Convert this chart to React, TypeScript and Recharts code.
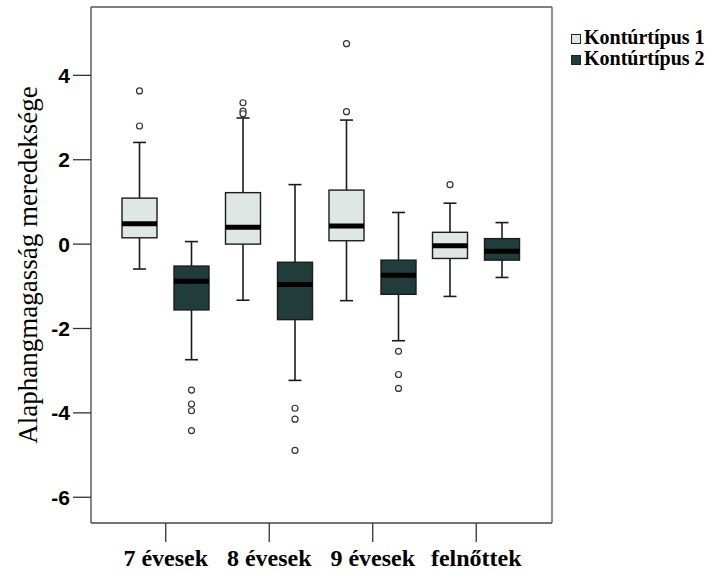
import React from 'react';
import { ComposedChart, Bar, XAxis, YAxis, Legend } from 'recharts';

// categories and five-number summaries
const categories = ['7 évesek', '8 évesek', '9 évesek', 'felnőttek'];

const t1Min = [-0.59, -1.33, -1.34, -1.24];
const t1Q1 = [0.15, 0.0, 0.08, -0.34];
const t1Med = [0.48, 0.4, 0.43, -0.04];
const t1Q3 = [1.09, 1.22, 1.28, 0.28];
const t1Max = [2.41, 2.99, 2.94, 0.97];
const t1Out = [[3.63, 2.8], [3.35, 3.15, 3.09], [4.75, 3.14], [1.41]];

const t2Min = [-2.74, -3.23, -2.29, -0.79];
const t2Q1 = [-1.56, -1.79, -1.19, -0.38];
const t2Med = [-0.88, -0.96, -0.74, -0.17];
const t2Q3 = [-0.52, -0.43, -0.38, 0.13];
const t2Max = [0.06, 1.41, 0.75, 0.51];
const t2Out = [[-3.46, -3.79, -3.95, -4.42], [-3.89, -4.15, -4.89], [-2.54, -3.09, -3.42], []];

const yTicks = [4, 2, 0, -2, -4, -6];
const legendLabels = ['Kontúrtípus 1', 'Kontúrtípus 2'];
const fills = ['#dfe7e4', '#223b3b'];

const data = categories.map((name, i) => ({
  name,
  r1: [t1Min[i], t1Max[i]],
  r2: [t2Min[i], t2Max[i]],
  s1: { min: t1Min[i], q1: t1Q1[i], med: t1Med[i], q3: t1Q3[i], max: t1Max[i], out: t1Out[i] },
  s2: { min: t2Min[i], q1: t2Q1[i], med: t2Med[i], q3: t2Q3[i], max: t2Max[i], out: t2Out[i] },
}));

const serif = '"Liberation Serif", "Times New Roman", serif';
const sans = '"Liberation Sans", Arial, sans-serif';

const BoxShape = (props: any) => {
  const { x, y, width, height, payload, sk, fill } = props;
  const s = payload[sk];
  const top = Math.min(y, y + height);
  const bot = Math.max(y, y + height);
  // bar spans whisker-to-whisker, so map other values on the same linear scale
  const py = (v: number) => top + ((s.max - v) / (s.max - s.min)) * (bot - top);
  const cx = x + width / 2;
  const cap = 13;
  const ink = '#1c1c1c';
  return (
    <g>
      <line x1={cx} x2={cx} y1={py(s.max)} y2={py(s.q3)} stroke={ink} strokeWidth={1.6} />
      <line x1={cx} x2={cx} y1={py(s.q1)} y2={py(s.min)} stroke={ink} strokeWidth={1.6} />
      <line x1={cx - cap / 2} x2={cx + cap / 2} y1={py(s.max)} y2={py(s.max)} stroke={ink} strokeWidth={1.6} />
      <line x1={cx - cap / 2} x2={cx + cap / 2} y1={py(s.min)} y2={py(s.min)} stroke={ink} strokeWidth={1.6} />
      <rect x={x} y={py(s.q3)} width={width} height={py(s.q1) - py(s.q3)} fill={fill} stroke={ink} strokeWidth={1.4} />
      <line x1={x} x2={x + width} y1={py(s.med)} y2={py(s.med)} stroke="#000" strokeWidth={5} />
      {s.out.map((v: number, j: number) => (
        <circle key={j} cx={cx} cy={py(v)} r={3} fill="#fff" stroke="#333" strokeWidth={1.2} />
      ))}
    </g>
  );
};

const XTick = (props: any) => {
  const { x, y, payload } = props;
  return (
    <text x={x} y={y} dy={24} textAnchor="middle" fontFamily={serif} fontWeight="bold" fontSize={24} fill="#000">
      {payload.value}
    </text>
  );
};

const YTick = (props: any) => {
  const { x, y, payload } = props;
  return (
    <text x={x} y={y} dy={7.5} textAnchor="end" fontFamily={sans} fontWeight="bold" fontSize={21} fill="#000">
      {payload.value}
    </text>
  );
};

const LegendBox = () => (
  <div style={{ fontFamily: serif, fontWeight: 'bold', fontSize: 20, lineHeight: '21px', color: '#000', whiteSpace: 'nowrap' }}>
    {legendLabels.map((l, i) => (
      <div key={l}>
        <span
          style={{
            width: 10,
            height: 10,
            boxSizing: 'border-box',
            background: fills[i],
            border: '1px solid #222',
            marginRight: 3,
            display: 'inline-block',
            verticalAlign: 'baseline',
          }}
        />
        <span>{l}</span>
      </div>
    ))}
  </div>
);

export default function App() {
  return (
    <div style={{ position: 'absolute', left: 0, top: 0, background: '#fff' }}>
      <ComposedChart
        width={708}
        height={572}
        data={data}
        margin={{ top: 6, right: 155, left: 0, bottom: 0 }}
        barSize={35}
        barGap={17}
        style={{ fontFamily: serif }}
      >
        <XAxis
          dataKey="name"
          height={49}
          padding={{ left: 23, right: 24 }}
          axisLine={{ stroke: '#444', strokeWidth: 1.3 }}
          tickLine={{ stroke: '#333', strokeWidth: 1.3 }}
          tickSize={19}
          tickMargin={0}
          tick={<XTick />}
        />
        <XAxis
          xAxisId="top"
          orientation="top"
          dataKey="name"
          height={1}
          tick={false}
          tickLine={false}
          axisLine={{ stroke: '#555', strokeWidth: 1.3 }}
        />
        <YAxis
          type="number"
          domain={[-6.61, 5.62]}
          ticks={yTicks}
          width={91}
          axisLine={{ stroke: '#444', strokeWidth: 1.3 }}
          tickLine={{ stroke: '#333', strokeWidth: 1.3 }}
          tickSize={18}
          tickMargin={3}
          tick={<YTick />}
          label={{
            value: 'Alaphangmagasság meredeksége',
            angle: -90,
            position: 'insideLeft',
            offset: 27,
            style: { textAnchor: 'middle', fontSize: 27, fill: '#000', fontFamily: serif },
          }}
        />
        <YAxis
          yAxisId="right"
          orientation="right"
          width={1}
          tick={false}
          tickLine={false}
          axisLine={{ stroke: '#555', strokeWidth: 1.3 }}
        />
        <Legend
          layout="vertical"
          align="center"
          verticalAlign="middle"
          content={() => <LegendBox />}
          wrapperStyle={{ left: 571, top: 27, width: 137 }}
        />
        <Bar
          dataKey="r1"
          fill={fills[0]}
          isAnimationActive={false}
          shape={(p: any) => <BoxShape {...p} sk="s1" fill={fills[0]} />}
        />
        <Bar
          dataKey="r2"
          fill={fills[1]}
          isAnimationActive={false}
          shape={(p: any) => <BoxShape {...p} sk="s2" fill={fills[1]} />}
        />
      </ComposedChart>
    </div>
  );
}
